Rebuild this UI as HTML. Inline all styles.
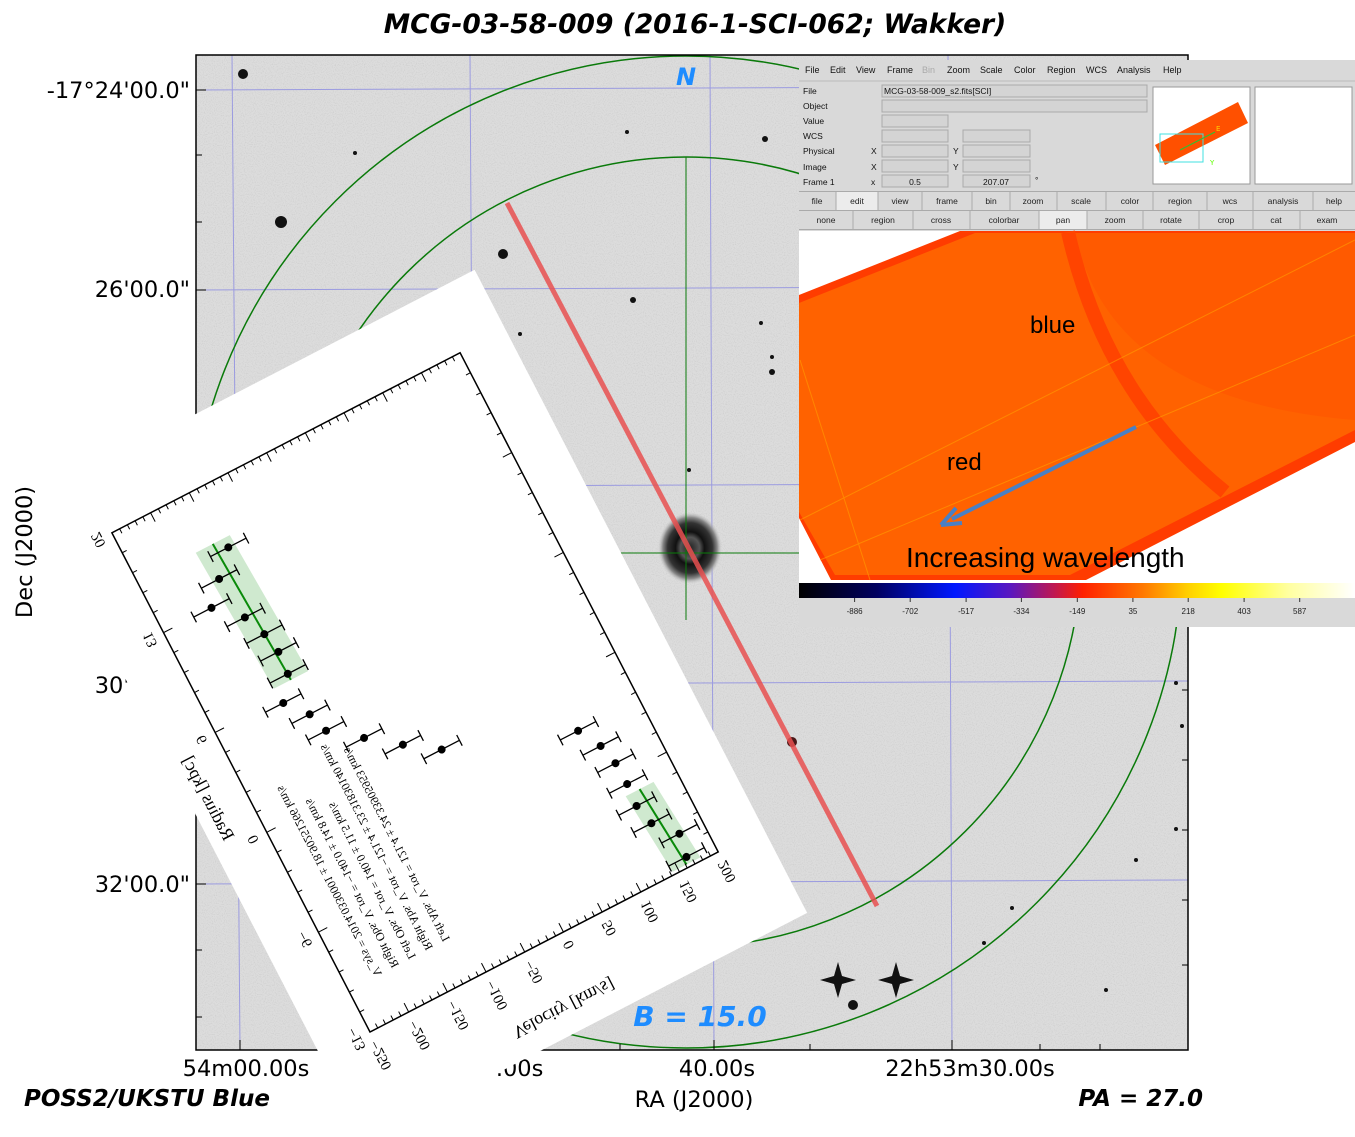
<!DOCTYPE html>
<html><head><meta charset="utf-8"><style>
html,body{margin:0;padding:0;background:#fff;}
svg{display:block;font-family:"DejaVu Sans","Liberation Sans",sans-serif;}
</style></head><body>
<svg id="root" width="1355" height="1137" viewBox="0 0 1355 1137">
<defs>
<clipPath id="panelClip"><rect x="196" y="55" width="992" height="995"/></clipPath>
<filter id="noise" x="0" y="0" width="100%" height="100%">
<feTurbulence type="fractalNoise" baseFrequency="0.9" numOctaves="1" seed="3"/>
<feColorMatrix type="matrix" values="0 0 0 0 0.45  0 0 0 0 0.45  0 0 0 0 0.45  0 0 0 1.6 -0.75"/>
</filter>
<radialGradient id="gal" cx="0.5" cy="0.5" r="0.5">
<stop offset="0" stop-color="#222"/><stop offset="0.3" stop-color="#555"/><stop offset="0.45" stop-color="#111"/><stop offset="0.7" stop-color="#333"/><stop offset="0.85" stop-color="#888"/><stop offset="1" stop-color="#ccc" stop-opacity="0"/>
</radialGradient>
<linearGradient id="cbar" x1="0" x2="1" y1="0" y2="0">
<stop offset="0" stop-color="#000"/><stop offset="0.14" stop-color="#000060"/><stop offset="0.28" stop-color="#0018ff"/><stop offset="0.38" stop-color="#5a18c0"/><stop offset="0.46" stop-color="#c01850"/><stop offset="0.51" stop-color="#ff2000"/><stop offset="0.62" stop-color="#ff7a00"/><stop offset="0.7" stop-color="#ffd000"/><stop offset="0.76" stop-color="#ffff00"/><stop offset="0.88" stop-color="#ffffa0"/><stop offset="1" stop-color="#ffffff"/>
</linearGradient>
</defs>

<text x="695" y="33" text-anchor="middle" font-size="26.5" font-weight="bold" font-style="italic">MCG-03-58-009 (2016-1-SCI-062; Wakker)</text>

<g>
<rect x="196" y="55" width="992" height="995" fill="#dcdcdc"/>
<rect x="196" y="55" width="992" height="995" filter="url(#noise)" opacity="0.6"/>
<g stroke="#9b9be0" stroke-width="1">
<line x1="232" y1="55" x2="240" y2="1050"/><line x1="470" y1="55" x2="476" y2="1050"/><line x1="710" y1="55" x2="714" y2="1050"/><line x1="948" y1="55" x2="952" y2="1050"/>
<line x1="196" y1="90" x2="1188" y2="86"/><line x1="196" y1="290" x2="1188" y2="286"/><line x1="196" y1="487" x2="1188" y2="483"/><line x1="196" y1="685" x2="1188" y2="681"/><line x1="196" y1="884" x2="1188" y2="880"/>
</g>
<g fill="#111">
<circle cx="243" cy="74" r="5"/><circle cx="281" cy="222" r="6"/><circle cx="503" cy="254" r="5"/><circle cx="355" cy="153" r="2"/><circle cx="627" cy="132" r="2"/><circle cx="765" cy="139" r="3"/><circle cx="520" cy="334" r="2"/><circle cx="633" cy="300" r="3"/><circle cx="761" cy="323" r="2"/><circle cx="772" cy="357" r="2"/><circle cx="772" cy="372" r="3"/><circle cx="689" cy="470" r="2"/><circle cx="792" cy="742" r="5" fill="#4a1818"/><circle cx="853" cy="1005" r="5"/><circle cx="1012" cy="908" r="2"/><circle cx="1106" cy="990" r="2"/><circle cx="984" cy="943" r="2"/><circle cx="1136" cy="860" r="2"/><circle cx="1176" cy="829" r="2"/><circle cx="1182" cy="726" r="2"/><circle cx="1176" cy="683" r="2"/>
<path d="M838 962 L842 976 L856 980 L842 984 L838 998 L834 984 L820 980 L834 976Z"/>
<path d="M896 962 L900 976 L914 980 L900 984 L896 998 L892 984 L878 980 L892 976Z"/>
</g>
<ellipse cx="690" cy="548" rx="32" ry="36" fill="url(#gal)"/>
<g clip-path="url(#panelClip)" fill="none" stroke="#0a7a0a" stroke-width="1.5">
<circle cx="686" cy="552" r="496"/><circle cx="686" cy="552" r="395"/>
<line x1="686" y1="157" x2="686" y2="620" stroke-width="1"/><line x1="620" y1="553" x2="800" y2="553" stroke-width="1"/>
</g>
<line x1="507" y1="203" x2="877" y2="906" stroke="#e85050" stroke-opacity="0.85" stroke-width="5"/>
<rect x="196" y="55" width="992" height="995" fill="none" stroke="#000" stroke-width="1.5"/>
<g stroke="#000" stroke-width="1">
<line x1="196" y1="90" x2="206" y2="90"/><line x1="196" y1="155" x2="202" y2="155"/><line x1="196" y1="222" x2="202" y2="222"/><line x1="196" y1="290" x2="206" y2="290"/><line x1="196" y1="884" x2="206" y2="884"/><line x1="196" y1="950" x2="202" y2="950"/><line x1="196" y1="1017" x2="202" y2="1017"/>
<line x1="1188" y1="690" x2="1182" y2="690"/><line x1="1188" y1="760" x2="1182" y2="760"/><line x1="1188" y1="830" x2="1182" y2="830"/><line x1="1188" y1="900" x2="1182" y2="900"/><line x1="1188" y1="965" x2="1182" y2="965"/>
<line x1="240" y1="1050" x2="240" y2="1040"/><line x1="714" y1="1050" x2="714" y2="1040"/><line x1="952" y1="1050" x2="952" y2="1040"/><line x1="810" y1="1050" x2="810" y2="1044"/><line x1="1040" y1="1050" x2="1040" y2="1044"/><line x1="1100" y1="1050" x2="1100" y2="1044"/><line x1="620" y1="1050" x2="620" y2="1044"/>
</g>
<text x="686" y="85" text-anchor="middle" font-size="24" font-weight="bold" font-style="italic" fill="#1e8cff">N</text>
<text x="700" y="1026" text-anchor="middle" font-size="28" font-weight="bold" font-style="italic" fill="#1e8cff">B = 15.0</text>
</g>

<g font-size="22.5">
<text x="190" y="98" text-anchor="end">-17°24'00.0"</text>
<text x="190" y="297" text-anchor="end">26'00.0"</text>
<text x="190" y="693" text-anchor="end">30'00.0"</text>
<text x="190" y="892" text-anchor="end">32'00.0"</text>
</g>
<g font-size="22.5" text-anchor="middle">
<text x="246" y="1076">54m00.00s</text>
<text x="480" y="1076">53m50.00s</text>
<text x="717" y="1076">40.00s</text>
<text x="970" y="1076">22h53m30.00s</text>
</g>
<text x="694" y="1107" text-anchor="middle" font-size="22.5">RA (J2000)</text>
<text transform="translate(32,552) rotate(-90)" text-anchor="middle" font-size="22.5">Dec (J2000)</text>
<text x="24" y="1106" font-size="23" font-weight="bold" font-style="italic">POSS2/UKSTU Blue</text>
<text x="1203" y="1106" text-anchor="end" font-size="23" font-weight="bold" font-style="italic">PA = 27.0</text>

<g id="plotg" transform="translate(370,1032) rotate(-27.34)">
<rect x="-55" y="-629" width="498" height="724" fill="#fff"/>
<rect x="0" y="-562" width="392" height="562" fill="none" stroke="#000" stroke-width="1.5"/>
</g>

<g>
<rect x="799" y="60" width="556" height="567" fill="#d9d9d9"/>
<g font-size="9" fill="#111" font-family="Liberation Sans, sans-serif">
<text x="805" y="73">File</text><text x="830" y="73">Edit</text><text x="856" y="73">View</text><text x="887" y="73">Frame</text><text x="922" y="73" fill="#aaa">Bin</text><text x="947" y="73">Zoom</text><text x="980" y="73">Scale</text><text x="1014" y="73">Color</text><text x="1047" y="73">Region</text><text x="1086" y="73">WCS</text><text x="1117" y="73">Analysis</text><text x="1163" y="73">Help</text>
</g>
<line x1="799" y1="81" x2="1355" y2="81" stroke="#bbb"/>
<g font-size="8.5" fill="#111" font-family="Liberation Sans, sans-serif">
<text x="803" y="94">File</text><text x="803" y="109">Object</text><text x="803" y="124">Value</text><text x="803" y="139">WCS</text><text x="803" y="154">Physical</text><text x="803" y="170">Image</text><text x="803" y="185">Frame 1</text>
<text x="871" y="154">X</text><text x="953" y="154">Y</text><text x="871" y="170">X</text><text x="953" y="170">Y</text><text x="871" y="185">x</text><text x="1035" y="183">°</text>
</g>
<g fill="#d4d4d4" stroke="#aaa" stroke-width="1">
<rect x="882" y="85" width="265" height="12"/><rect x="882" y="100" width="265" height="12"/><rect x="882" y="115" width="66" height="12"/>
<rect x="882" y="130" width="66" height="12"/><rect x="963" y="130" width="67" height="12"/>
<rect x="882" y="145" width="66" height="12"/><rect x="963" y="145" width="67" height="12"/>
<rect x="882" y="160" width="66" height="12"/><rect x="963" y="160" width="67" height="12"/>
<rect x="882" y="175" width="66" height="12"/><rect x="963" y="175" width="67" height="12"/>
</g>
<g font-size="8.5" fill="#111" font-family="Liberation Sans, sans-serif">
<text x="884" y="94">MCG-03-58-009_s2.fits[SCI]</text><text x="915" y="185" text-anchor="middle">0.5</text><text x="996" y="185" text-anchor="middle">207.07</text>
</g>
<rect x="1153" y="87" width="97" height="97" fill="#fff" stroke="#999"/>
<polygon points="1155,145 1238,102 1248,123 1165,165" fill="#ff5000"/>
<rect x="1160" y="134" width="43" height="28" fill="none" stroke="#40e0e0"/>
<line x1="1180" y1="150" x2="1215" y2="132" stroke="#30c030" stroke-width="1.2"/>
<text x="1216" y="131" font-size="7" fill="#ffd000">E</text><text x="1210" y="165" font-size="7" fill="#60ff00">Y</text>
<rect x="1255" y="87" width="97" height="97" fill="#fff" stroke="#999"/>
<g>
<rect x="799" y="192" width="556" height="37" fill="#d9d9d9"/>
<rect x="836" y="192" width="42" height="18" fill="#ececec"/><rect x="1039" y="211" width="48" height="18" fill="#ececec"/>
<g stroke="#aaa"><line x1="799" y1="210.5" x2="1355" y2="210.5"/><line x1="799" y1="229.5" x2="1355" y2="229.5"/><line x1="799" y1="191.5" x2="1355" y2="191.5"/>
<line x1="836" y1="192" x2="836" y2="210"/><line x1="878" y1="192" x2="878" y2="210"/><line x1="922" y1="192" x2="922" y2="210"/><line x1="972" y1="192" x2="972" y2="210"/><line x1="1010" y1="192" x2="1010" y2="210"/><line x1="1057" y1="192" x2="1057" y2="210"/><line x1="1106" y1="192" x2="1106" y2="210"/><line x1="1153" y1="192" x2="1153" y2="210"/><line x1="1207" y1="192" x2="1207" y2="210"/><line x1="1253" y1="192" x2="1253" y2="210"/><line x1="1313" y1="192" x2="1313" y2="210"/>
<line x1="853" y1="211" x2="853" y2="229"/><line x1="913" y1="211" x2="913" y2="229"/><line x1="970" y1="211" x2="970" y2="229"/><line x1="1039" y1="211" x2="1039" y2="229"/><line x1="1087" y1="211" x2="1087" y2="229"/><line x1="1143" y1="211" x2="1143" y2="229"/><line x1="1199" y1="211" x2="1199" y2="229"/><line x1="1253" y1="211" x2="1253" y2="229"/><line x1="1300" y1="211" x2="1300" y2="229"/></g>
<g font-size="8.5" fill="#222" text-anchor="middle" font-family="Liberation Sans, sans-serif">
<text x="817" y="204">file</text><text x="857" y="204">edit</text><text x="900" y="204">view</text><text x="947" y="204">frame</text><text x="991" y="204">bin</text><text x="1033" y="204">zoom</text><text x="1081" y="204">scale</text><text x="1130" y="204">color</text><text x="1180" y="204">region</text><text x="1230" y="204">wcs</text><text x="1283" y="204">analysis</text><text x="1334" y="204">help</text>
<text x="826" y="223">none</text><text x="883" y="223">region</text><text x="941" y="223">cross</text><text x="1004" y="223">colorbar</text><text x="1063" y="223">pan</text><text x="1115" y="223">zoom</text><text x="1171" y="223">rotate</text><text x="1226" y="223">crop</text><text x="1276" y="223">cat</text><text x="1327" y="223">exam</text>
</g>
</g>
<rect x="799" y="231" width="556" height="352" fill="#fff"/>
<polygon points="799,295 960,231 1355,231 1355,442 1086,580 831,580 799,518" fill="#ff3c00"/>
<polygon points="799,303 975,233 1355,233 1355,430 1070,575 835,575 799,512" fill="#ff6200"/>
<path d="M1075 233 Q1110 400 1355 420 L1355 233 Z" fill="#ff5a00"/>
<path d="M1068 232 Q1105 395 1225 492" fill="none" stroke="#ff4400" stroke-width="14"/>
<g stroke="#ffa000" stroke-width="1" opacity="0.6">
<line x1="800" y1="520" x2="1355" y2="240"/><line x1="820" y1="560" x2="1355" y2="335"/><line x1="800" y1="360" x2="870" y2="580"/>
</g>
<text x="1030" y="333" font-size="24" font-family="Liberation Sans, sans-serif">blue</text>
<text x="947" y="470" font-size="24" font-family="Liberation Sans, sans-serif">red</text>
<line x1="1136" y1="427" x2="952" y2="519" stroke="#4a80c4" stroke-width="4"/>
<path d="M941 525 L956 508 M941 525 L962 523" stroke="#4a80c4" stroke-width="4" fill="none"/>
<text x="906" y="567" font-size="28" font-family="Liberation Sans, sans-serif">Increasing wavelength</text>
<rect x="799" y="583" width="556" height="15" fill="url(#cbar)"/>
<g id="cbarLabels" font-size="8" fill="#222" text-anchor="middle" font-family="Liberation Sans, sans-serif"></g>
</g>

<script>
const pointVel = [-139,-165,-188,-159,-148,-143,-145,-165,-144,-136,-101,-65,-28,121,136,142,143,141,147,170,165];
const pointRad = [15.9,14.5,13.2,11.8,10.4,9.1,7.7,6.3,5.0,3.7,2.3,0.9,-0.4,-3.1,-4.5,-5.8,-7.2,-8.6,-9.9,-11.2,-12.6];
const pointErr = [23,23,23,23,23,23,23,23,23,23,23,23,23,23,23,23,23,23,23,23,23];
const fitVelStart = [-153,153];
const fitVelEnd = [-145,161];
const fitRadStart = [16.5,-7.8];
const fitRadEnd = [7.3,-13.0];
const fitBandHalf = [22,18];
const velTicks = [-250,-200,-150,-100,-50,0,50,100,150,200];
const velTickLabels = ["−250","−200","−150","−100","−50","0","50","100","150","200"];
const radTicks = [-13.2,-6.6,0,6.6,13.2,19.8];
const radTickLabels = ["−13","−6","0","6","13","20"];
const statLines = ["Left Abs. V_rot = 121.4 ± 24.33905953 km/s","Right Abs. V_rot = −121.4 ± 23.31830140 km/s","Left Obs. V_rot = 140.0 ± 11.5 km/s","Right Obs. V_rot = −140.0 ± 14.8 km/s","V_sys = 2014.0330001 ± 18.90251266 km/s"];
const statVel = [-128,-150,-172,-194,-216];
const cbarValues = [-886,-702,-517,-334,-149,35,218,403,587];

const NS = "http://www.w3.org/2000/svg";
const W = 392, H = 562, vMin = -250, vMax = 200, rMin = -13.2, rMax = 19.8;
function xS(v){ return (v - vMin) / (vMax - vMin) * W; }
function yS(r){ return -(r - rMin) / (rMax - rMin) * H; }
function mk(tag, attrs, parent){ const e = document.createElementNS(NS, tag); for (const k in attrs) e.setAttribute(k, attrs[k]); parent.appendChild(e); return e; }
const g = document.getElementById("plotg");

for (let i = 0; i < fitVelStart.length; i++) {
  const x1 = xS(fitVelStart[i]), x2 = xS(fitVelEnd[i]), y1 = yS(fitRadStart[i]), y2 = yS(fitRadEnd[i]);
  const hw = fitBandHalf[i] / (vMax - vMin) * W;
  const band = mk("polygon", {points: `${x1-hw},${y1} ${x1+hw},${y1} ${x2+hw},${y2} ${x2-hw},${y2}`, fill: "#9fd39f", "fill-opacity": "0.5"}, g);
  
  
  const ln = mk("line", {x1: x1, y1: y1, x2: x2, y2: y2, stroke: "#0a8a0a", "stroke-width": "2"}, g);
  
  
}
for (let v = vMin; v <= vMax; v += 10) {
  const major = (v % 50 === 0);
  const L = major ? 10 : 5, x = xS(v);
  const t1 = mk("line", {x1: x, y1: 0, x2: x, y2: -L, stroke: "#000", "stroke-width": "1"}, g);
  
  
  const t2 = mk("line", {x1: x, y1: -H, x2: x, y2: -H + L, stroke: "#000", "stroke-width": "1"}, g);
  
  
}
velTicks.forEach((v, i) => {
  const t = mk("text", {transform: `translate(${xS(v)},10) rotate(90) scale(1,-1)`, "font-size": "15", "font-family": "Liberation Serif, serif", "text-anchor": "start", "dominant-baseline": "middle"}, g);
  t.textContent = velTickLabels[i];
  
  
});
for (let k = 0; k <= 25; k++) {
  const r = rMin + k * 1.32, y = yS(r);
  const L = (k % 5 === 0) ? 10 : 5;
  const t1 = mk("line", {x1: 0, y1: y, x2: L, y2: y, stroke: "#000", "stroke-width": "1"}, g);
  
  
  const t2 = mk("line", {x1: W, y1: y, x2: W - L, y2: y, stroke: "#000", "stroke-width": "1"}, g);
  
  
}
radTicks.forEach((r, i) => {
  const t = mk("text", {transform: `translate(-14,${yS(r)}) rotate(90) scale(1,-1)`, "font-size": "15", "font-family": "Liberation Serif, serif", "text-anchor": "middle", "dominant-baseline": "middle"}, g);
  t.textContent = radTickLabels[i];
  
  
});
const xt = mk("text", {transform: "translate(183,62) scale(1,-1)", "font-size": "18", "font-family": "Liberation Serif, serif", "text-anchor": "middle"}, g);
xt.textContent = "Velocity [km/s]";


const yt = mk("text", {transform: "translate(-42,-282) rotate(-90) scale(1,-1)", "font-size": "18", "font-family": "Liberation Serif, serif", "text-anchor": "middle"}, g);
yt.textContent = "Radius [kpc]";


statLines.forEach((s, i) => {
  const t = mk("text", {transform: `translate(${xS(statVel[i])},${yS(-10.5)}) rotate(-90) scale(1,-1)`, "font-size": "12", "font-family": "Liberation Serif, serif"}, g);
  t.textContent = s;
  
  
});
pointVel.forEach((v, i) => {
  const x = xS(v), y = yS(pointRad[i]);
  const e = pointErr[i] / (vMax - vMin) * W;
  const eb = mk("path", {d: `M${x-e},${y} L${x+e},${y} M${x-e},${y-6} L${x-e},${y+6} M${x+e},${y-6} L${x+e},${y+6}`, stroke: "#000", "stroke-width": "1.3", fill: "none"}, g);
  
  
  const c = mk("circle", {cx: x, cy: y, r: 4, fill: "#000"}, g);
  
  
});
const cb = document.getElementById("cbarLabels");
cbarValues.forEach((v) => {
  const x = 799 + (v + 1070) / (770 + 1070) * 556;
  const tk = mk("line", {x1: x, y1: 598, x2: x, y2: 602, stroke: "#333"}, cb);
  
  
  const t = mk("text", {x: x, y: 614}, cb);
  t.textContent = String(v);
  
  
});
</script>
</svg>
</body></html>
